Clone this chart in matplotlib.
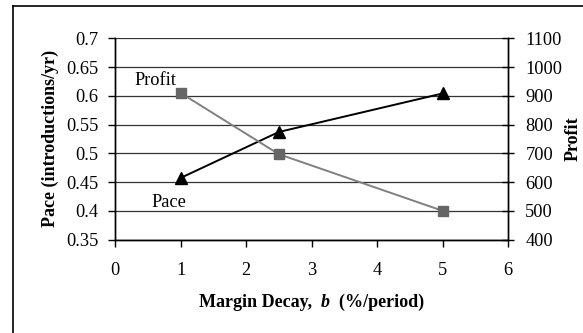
import matplotlib
matplotlib.use("Agg")
import matplotlib.pyplot as plt
from matplotlib.lines import Line2D
from matplotlib.offsetbox import TextArea, HPacker, AnchoredOffsetbox

plt.rcParams['font.family'] = ['Liberation Serif', 'DejaVu Serif']

decay = [1, 2.5, 5]
pace = [0.457, 0.537, 0.604]
profit = [910, 697, 500]
x_ticks = [0, 1, 2, 3, 4, 5, 6]
pace_ticks = [0.35, 0.4, 0.45, 0.5, 0.55, 0.6, 0.65, 0.7]
pace_tick_labels = ["0.35", "0.4", "0.45", "0.5", "0.55", "0.6", "0.65", "0.7"]
profit_ticks = [400, 500, 600, 700, 800, 900, 1000, 1100]

W, H = 583, 333
fig = plt.figure(figsize=(W / 100, H / 100), dpi=100)
L, R, T, B = 115, 508, 38.3, 239.5
ax = fig.add_axes([L / W, 1 - B / H, (R - L) / W, (B - T) / H])
ax2 = ax.twinx()

fs = 13.2
lfs = 13
ax.set_xlim(0, 6)
ax.set_ylim(0.35, 0.7)
ax2.set_ylim(400, 1100)
ax.set_xticks(x_ticks)
ax.set_xticklabels([str(v) for v in x_ticks], fontsize=fs)
ax.set_yticks(pace_ticks)
ax.set_yticklabels(pace_tick_labels, fontsize=fs)
ax2.set_yticks(profit_ticks)
ax2.set_yticklabels([str(v) for v in profit_ticks], fontsize=fs)

for a in (ax, ax2):
    a.spines['top'].set_visible(False)
    for s in a.spines.values():
        s.set_linewidth(1.0)
        s.set_color('black')
ax.tick_params(axis='x', direction='out', length=5, width=1, pad=11)
ax.tick_params(axis='y', direction='out', length=5, width=1, pad=7)
ax2.tick_params(axis='y', direction='inout', length=9, width=1, pad=8)

ax.yaxis.grid(True, color='#333333', linewidth=0.9)
ax.set_axisbelow(True)

ax.plot(decay, pace, color='black', linewidth=1.4, marker='^',
        markersize=8, markerfacecolor='black', markeredgecolor='black', zorder=3)
ax2.plot(decay, profit, color='#808080', linewidth=1.4, marker='s',
         markersize=7.5, markerfacecolor='#666666', markeredgecolor='#666666', zorder=3)

ax.text(0.3, 0.626, "Profit", fontsize=fs, ha='left', va='center')
ax.text(0.55, 0.415, "Pace", fontsize=fs, ha='left', va='center')

ax.set_ylabel("Pace (introductions/yr)", fontsize=lfs, fontweight='bold', labelpad=5)
ax2.set_ylabel("Profit", fontsize=lfs, fontweight='bold', labelpad=2)

parts = [
    TextArea("Margin Decay,  ", textprops=dict(fontsize=lfs, fontweight='bold')),
    TextArea("b", textprops=dict(fontsize=lfs, fontweight='bold', fontstyle='italic')),
    TextArea("  (%/period)", textprops=dict(fontsize=lfs, fontweight='bold')),
]
pack = HPacker(children=parts, align='baseline', pad=0, sep=0)
box = AnchoredOffsetbox(loc='center', child=pack, frameon=False,
                        bbox_to_anchor=((L + R) / 2 / W, 1 - 302 / H),
                        bbox_transform=fig.transFigure, borderpad=0, pad=0)
fig.add_artist(box)

fig.add_artist(Line2D([12.5 / W, 12.5 / W], [0, 1 - 5.5 / H], transform=fig.transFigure,
                      color='black', linewidth=1.2))
fig.add_artist(Line2D([12.5 / W, 1], [1 - 5.5 / H, 1 - 5.5 / H], transform=fig.transFigure,
                      color='black', linewidth=1.2))

fig.savefig("out.png", dpi=100)
